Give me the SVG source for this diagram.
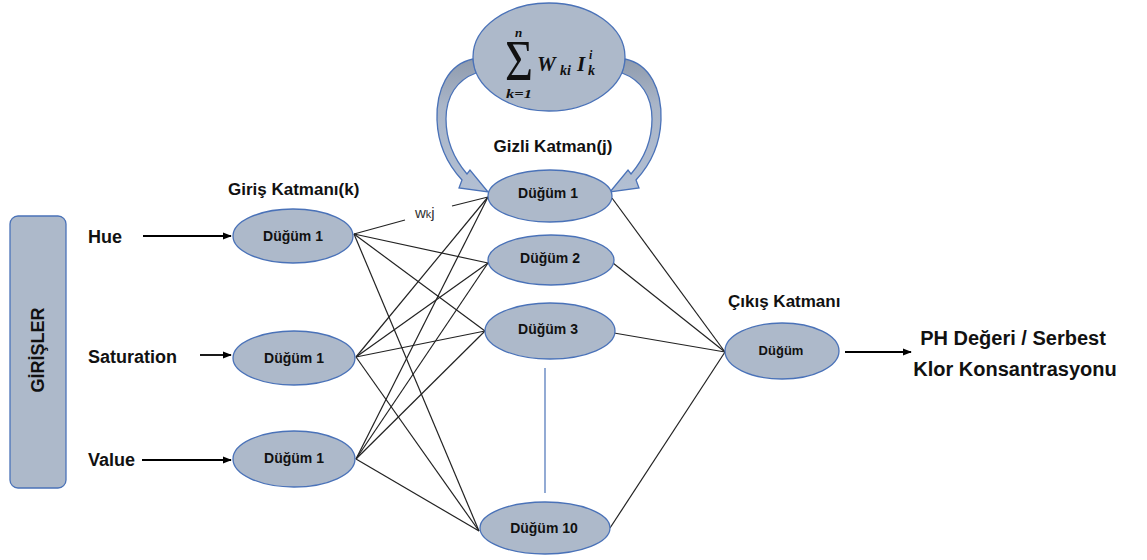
<svg xmlns="http://www.w3.org/2000/svg" width="1147" height="560" viewBox="0 0 1147 560">
<defs>
<style>
.node{fill:#adb9ca;stroke:#4a72b8;stroke-width:1.3}
.lbl{font-family:"Liberation Sans",Arial,sans-serif;font-weight:bold;fill:#111;text-anchor:middle}
.t{font-family:"Liberation Sans",Arial,sans-serif;font-weight:bold;fill:#111}
.ln{stroke:#222;stroke-width:1.2;fill:none}
.arr{stroke:#000;stroke-width:1.8;fill:none;marker-end:url(#ah)}
.math{font-family:"Liberation Serif","Times New Roman",serif;font-weight:bold;font-style:italic;fill:#111}
.curv{fill:url(#cg);stroke:#4a72b8;stroke-width:1.3}
</style>
<marker id="ah" viewBox="0 0 10 10" refX="9" refY="5" markerWidth="5" markerHeight="5" orient="auto" markerUnits="strokeWidth">
<path d="M0,1 L10,5 L0,9 Z" fill="#000"/>
</marker>
<linearGradient id="cg" x1="0" y1="0" x2="0" y2="1">
<stop offset="0" stop-color="#8f9bad"/>
<stop offset="0.35" stop-color="#a9b5c8"/>
<stop offset="1" stop-color="#b2bfd3"/>
</linearGradient>
</defs>

<g id="connectors">
<line class="ln" x1="354" y1="234" x2="405" y2="220"/>
<line class="ln" x1="452" y1="206" x2="488" y2="197"/>
<text x="415" y="218" style="font-family:'Liberation Sans',sans-serif;font-size:15px;fill:#333">w<tspan font-size="11">k</tspan>j</text>
<line class="ln" x1="354" y1="234" x2="488" y2="263"/>
<line class="ln" x1="354" y1="234" x2="485" y2="331"/>
<line class="ln" x1="354" y1="234" x2="479" y2="531"/>
<line class="ln" x1="356" y1="357" x2="488" y2="197"/>
<line class="ln" x1="356" y1="357" x2="488" y2="263"/>
<line class="ln" x1="356" y1="357" x2="485" y2="331"/>
<line class="ln" x1="356" y1="357" x2="479" y2="531"/>
<line class="ln" x1="356" y1="459" x2="488" y2="197"/>
<line class="ln" x1="356" y1="459" x2="488" y2="263"/>
<line class="ln" x1="356" y1="459" x2="485" y2="331"/>
<line class="ln" x1="356" y1="459" x2="479" y2="531"/>
<line class="ln" x1="612" y1="198" x2="725" y2="352"/>
<line class="ln" x1="613" y1="263" x2="725" y2="352"/>
<line class="ln" x1="614" y1="333" x2="725" y2="352"/>
<line class="ln" x1="610" y1="528" x2="725" y2="352"/>
<line x1="545" y1="368" x2="545" y2="493" stroke="#4a72b8" stroke-width="1.2"/>
<line class="arr" x1="143" y1="236" x2="231" y2="236"/>
<line class="arr" x1="200" y1="355" x2="231" y2="355"/>
<line class="arr" x1="142" y1="460" x2="231" y2="460"/>
<line class="arr" x1="845" y1="352" x2="911" y2="352"/>
<path class="curv" d="M473,59 C448,64 436,90 437,120 C438,147 449,166 462,180 L459,188 L488,192 L470,170 L467,174 C455,160 446,142 446,119 C446,96 457,80 476,73 Z"/>
<path class="curv" transform="translate(1098,0) scale(-1,1)" d="M473,59 C448,64 436,90 437,120 C438,147 449,166 462,180 L459,188 L488,192 L470,170 L467,174 C455,160 446,142 446,119 C446,96 457,80 476,73 Z"/>
</g>

<g id="girisler">
<rect x="10" y="216" width="56" height="272" rx="8" class="node"/>
<text class="lbl" transform="translate(44,350) rotate(-90)" font-size="18">GİRİŞLER</text>
</g>
<g id="input-labels">
<text class="t" x="88" y="243" font-size="18">Hue</text>
<text class="t" x="88" y="363" font-size="18">Saturation</text>
<text class="t" x="88" y="466" font-size="18">Value</text>
</g>
<g id="titles">
<text class="t" x="228" y="195" font-size="17">Giriş Katmanı(k)</text>
<text class="lbl" x="553" y="152" font-size="17">Gizli Katman(j)</text>
<text class="t" x="728" y="307" font-size="17">Çıkış Katmanı</text>
<text class="lbl" x="1013" y="345" font-size="20">PH Değeri / Serbest</text>
<text class="lbl" x="1015" y="376" font-size="20">Klor Konsantrasyonu</text>
</g>

<g id="sum-node">
<ellipse cx="549" cy="57" rx="76" ry="54" class="node"/>
<text x="505" y="80" style="font-family:'Liberation Serif',serif;font-size:56px;fill:#111" textLength="28" lengthAdjust="spacingAndGlyphs">Σ</text>
<text class="math" x="515" y="37" font-size="13">n</text>
<text class="math" x="506" y="98" font-size="13" textLength="26" lengthAdjust="spacingAndGlyphs">k=1</text>
<text class="math" x="537" y="71" font-size="21">W</text>
<text class="math" x="560" y="75" font-size="14">ki</text>
<text class="math" x="577" y="71" font-size="21">I</text>
<text class="math" x="589" y="59" font-size="12">i</text>
<text class="math" x="588" y="75" font-size="14">k</text>
</g>

<g id="in1"><ellipse cx="293" cy="236" rx="60" ry="27" class="node"/><text class="lbl" x="293" y="241" font-size="14">Düğüm 1</text></g>
<g id="in2"><ellipse cx="294" cy="358" rx="61" ry="27" class="node"/><text class="lbl" x="294" y="363" font-size="14">Düğüm 1</text></g>
<g id="in3"><ellipse cx="294" cy="459" rx="61" ry="28" class="node"/><text class="lbl" x="294" y="463" font-size="14">Düğüm 1</text></g>

<g id="h1"><ellipse cx="550" cy="196" rx="62" ry="26" class="node"/><text class="lbl" x="548" y="198" font-size="14">Düğüm 1</text></g>
<g id="h2"><ellipse cx="551" cy="260" rx="63" ry="25" class="node"/><text class="lbl" x="550" y="263" font-size="14">Düğüm 2</text></g>
<g id="h3"><ellipse cx="550" cy="331" rx="65" ry="28" class="node"/><text class="lbl" x="548" y="334" font-size="14">Düğüm 3</text></g>
<g id="h10"><ellipse cx="545" cy="528" rx="65" ry="26" class="node"/><text class="lbl" x="544" y="533" font-size="14">Düğüm 10</text></g>

<g id="out"><ellipse cx="782" cy="351" rx="57" ry="28" class="node"/><text class="lbl" x="781" y="355" font-size="13">Düğüm</text></g>
</svg>
